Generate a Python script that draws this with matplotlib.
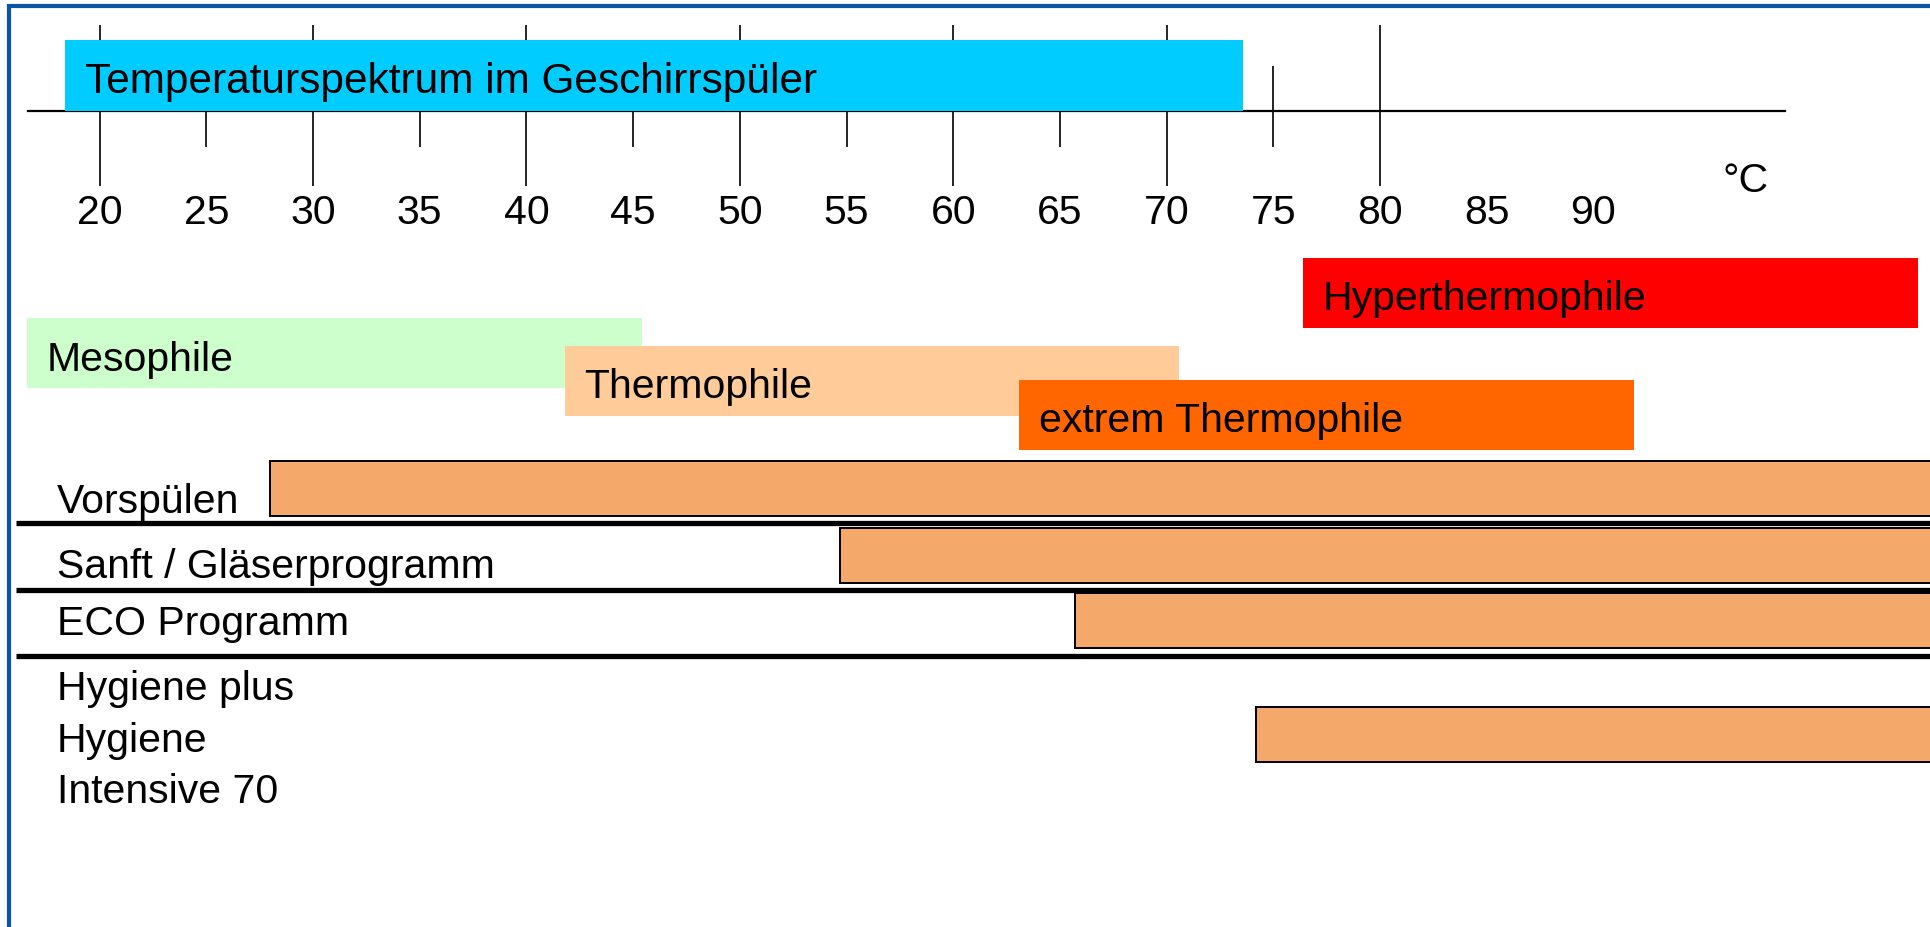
import matplotlib.pyplot as plt

# temperature scale labels and tick marks (°C)
tick_labels = [20, 25, 30, 35, 40, 45, 50, 55, 60, 65, 70, 75, 80, 85, 90]
major_ticks = [20, 30, 40, 50, 60, 70, 80]
minor_ticks = [25, 35, 45, 55, 65]
mid_ticks = [75]

# title band of the scale
title_text = "Temperaturspektrum im Geschirrspüler"
title_range = (18.4, 73.6)

# organism groups: name, start, end, colour
groups = ["Hyperthermophile", "Mesophile", "Thermophile", "extrem Thermophile"]
group_start = [76.4, 16.6, 41.8, 63.1]
group_end = [105.2, 45.4, 70.6, 91.9]
group_colors = ["#FF0000", "#CCFFCC", "#FFCC99", "#FF6600"]

# dishwasher programmes: start temperature (bars run off the right edge)
programs = ["Vorspülen", "Sanft / Gläserprogramm", "ECO Programm",
            "Hygiene plus\nHygiene\nIntensive 70"]
program_start = [28.0, 54.7, 65.7, 74.2]
program_end = [110, 110, 110, 110]

W, H = 1931, 928
T0, PX_PER_C = -327.2, 21.34   # pixel = T0 + PX_PER_C * T


def t_of(px):
    return (px - T0) / PX_PER_C


plt.rcParams['font.family'] = ['Liberation Sans', 'DejaVu Sans']
fs = 29.5

fig = plt.figure(figsize=(W / 100, H / 100), dpi=100)
ax = fig.add_axes([0, 0, 1, 1])
ax.set_xlim(t_of(0), t_of(W))
ax.set_ylim(H, 0)
ax.axis('off')

# outer frame (top and left edges visible)
ax.plot([t_of(9), t_of(W + 10)], [7, 7], color="#0A55A8", lw=3, solid_capstyle='butt')
ax.plot([t_of(9), t_of(9)], [5, H + 10], color="#0A55A8", lw=3, solid_capstyle='butt')

# temperature scale
ax.plot([t_of(28), t_of(1785)], [112, 112], color="black", lw=1.6, zorder=1)
ax.vlines(major_ticks, 26, 187, color="black", lw=1.2, zorder=1)
ax.vlines(minor_ticks, 112, 148, color="black", lw=1.2, zorder=1)
ax.vlines(mid_ticks, 67, 148, color="black", lw=1.2, zorder=1)
for t in tick_labels:
    ax.text(t, 224, str(t), fontsize=fs, ha="center", va="baseline")
ax.text(t_of(1723), 192, "°C", fontsize=fs, ha="left", va="baseline")

pad = 0.92
ax.barh(76.5, title_range[1] - title_range[0], left=title_range[0], height=71,
        color="#00CCFF", zorder=2)
ax.text(title_range[0] + pad, 93, title_text, fontsize=30.5, ha="left",
        va="baseline", zorder=3)

# organism groups
g_y = [294, 354, 382, 416]
g_base = [310, 371, 398, 432]
for name, s, e, c, y, b in zip(groups, group_start, group_end, group_colors, g_y, g_base):
    ax.barh(y, e - s, left=s, height=70, color=c, zorder=2)
    ax.text(s + pad, b, name, fontsize=fs, ha="left", va="baseline", zorder=3)

# programme rows
p_y = [489.5, 556, 621.5, 735]
for s, e, y in zip(program_start, program_end, p_y):
    ax.barh(y, e - s, left=s, height=55, color="#F4A86A", edgecolor="black",
            lw=1.4, zorder=2)
ax.hlines([524, 591, 657], t_of(16), t_of(W + 10), color="black", lw=3.8, zorder=3)

p_base = [513, 578, 635]
for name, b in zip(programs[:3], p_base):
    ax.text(t_of(57), b, name, fontsize=fs, ha="left", va="baseline")
for i, name in enumerate(programs[3].split("\n")):
    ax.text(t_of(57), [700, 752, 803][i], name, fontsize=fs, ha="left", va="baseline")

fig.savefig("out.png", dpi=100, facecolor="white")
